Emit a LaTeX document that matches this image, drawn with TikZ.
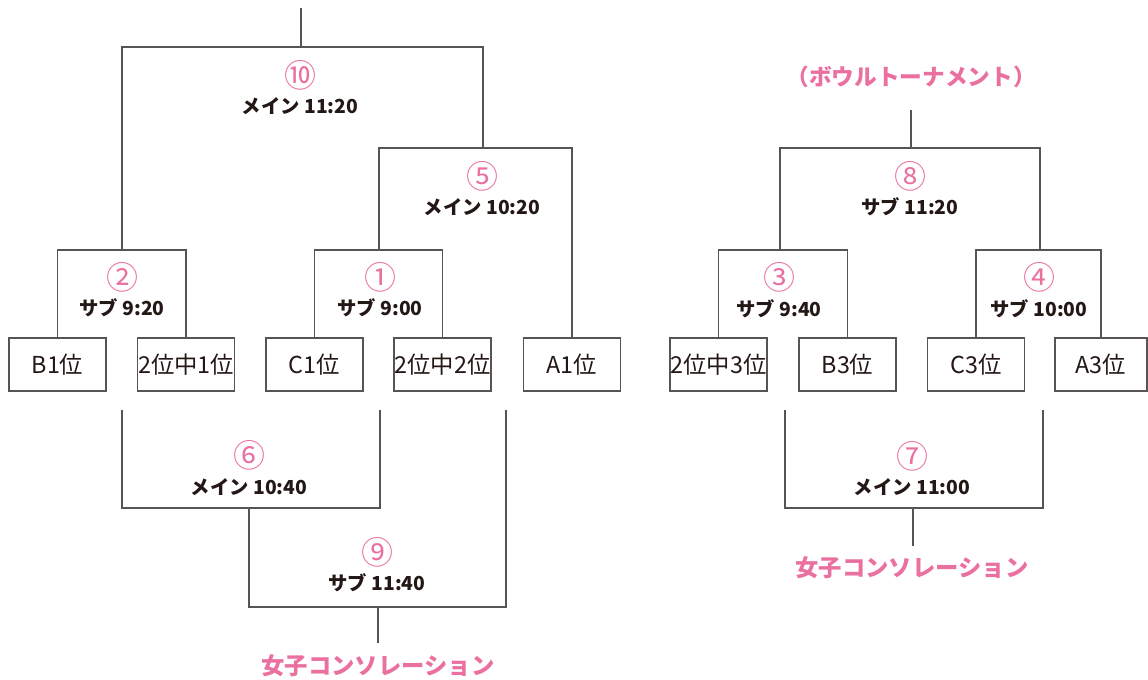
\documentclass[tikz,border=0pt]{standalone}
\usepackage{fontspec}
\setmainfont{Noto Sans CJK JP}
\definecolor{linegray}{RGB}{89,84,84}
\definecolor{inkblack}{RGB}{35,24,21}
\definecolor{rosepink}{RGB}{234,112,160}

\begin{document}
\begin{tikzpicture}[
    x=0.75pt, y=-0.75pt,
    line/.style={draw=linegray, line width=1.1pt},
    team/.style={draw=linegray, line width=1.1pt, minimum width=73pt, minimum height=39.5pt, inner sep=0pt, text=inkblack, font=\fontsize{17.5}{19}\selectfont},
    num/.style={text=rosepink, inner sep=0pt, font=\fontsize{24}{24}\selectfont},
    slot/.style={text=inkblack, inner sep=0pt, font=\bfseries\fontsize{14.5}{16}\selectfont},
    title/.style={text=rosepink, inner sep=0pt, font=\bfseries\fontsize{17.5}{19}\selectfont}
]
    \useasboundingbox (0,0) rectangle (1148,679);

    % first round slots
    \node[team] (b1) at (57.5,364.5) {B1位};
    \node[team] (w21) at (186,364.5) {2位中1位};
    \node[team] (c1) at (314.5,364.5) {C1位};
    \node[team] (w22) at (442.5,364.5) {2位中2位};
    \node[team] (a1) at (572,364.5) {A1位};
    \node[team] (w23) at (718.5,364.5) {2位中3位};
    \node[team] (b3) at (847.5,364.5) {B3位};
    \node[team] (c3) at (976,364.5) {C3位};
    \node[team, minimum width=69pt] (a3) at (1101,364.5) {A3位};

    % main bracket
    \coordinate (j2) at (122,250);
    \coordinate (j1) at (379,250);
    \coordinate (j5) at (483,148);
    \coordinate (j10) at (301,47);
    \coordinate (top10) at (301,8);

    \draw[line] (b1.north) |- (j2) -| (w21.north);
    \draw[line] (c1.north) |- (j1) -| (w22.north);
    \draw[line] (j1) |- (j5) -| (a1.north);
    \draw[line] (j2) |- (j10) -| (j5);
    \draw[line] (j10) -- (top10);

    \node[num] (n10) at (300,75) {⑩};
    \node[slot] (t10) at (300,106) {メイン 11:20};
    \node[num] (n5) at (482,176) {⑤};
    \node[slot] (t5) at (482,207) {メイン 10:20};
    \node[num] (n2) at (122,277) {②};
    \node[slot] (t2) at (122,308) {サブ 9:20};
    \node[num] (n1) at (380,277) {①};
    \node[slot] (t1) at (380,308) {サブ 9:00};

    % consolation (left)
    \coordinate (l2) at (122,410);
    \coordinate (l1) at (380,410);
    \coordinate (l5) at (506,410);
    \coordinate (j6) at (249,508);
    \coordinate (j9) at (378,607);
    \coordinate (e9) at (378,643);

    \draw[line] (l2) |- (j6) -| (l1);
    \draw[line] (j6) |- (j9) -| (l5);
    \draw[line] (j9) -- (e9);

    \node[num] (n6) at (249,455) {⑥};
    \node[slot] (t6) at (249,487) {メイン 10:40};
    \node[num] (n9) at (377,552) {⑨};
    \node[slot] (t9) at (377,583) {サブ 11:40};
    \node[title] (cons1) at (378,666) {女子コンソレーション};

    % bowl bracket
    \node[title, font=\bfseries\fontsize{17}{19}\selectfont] (bowl) at (911,77) {（ボウルトーナメント）};
    \coordinate (j3) at (780,250);
    \coordinate (j4) at (1040,250);
    \coordinate (j8) at (911,148);
    \coordinate (top8) at (911,110);

    \draw[line] (w23.north) |- (j3) -| (b3.north);
    \draw[line] (c3.north) |- (j4) -| (a3.north);
    \draw[line] (j3) |- (j8) -| (j4);
    \draw[line] (j8) -- (top8);

    \node[num] (n8) at (910,176) {⑧};
    \node[slot] (t8) at (910,207) {サブ 11:20};
    \node[num] (n3) at (779,277) {③};
    \node[slot] (t3) at (779,309) {サブ 9:40};
    \node[num] (n4) at (1039,277) {④};
    \node[slot] (t4) at (1039,309) {サブ 10:00};

    % consolation (right)
    \coordinate (l3) at (785,410);
    \coordinate (l4) at (1043,410);
    \coordinate (j7) at (913,508);
    \coordinate (e7) at (913,546);

    \draw[line] (l3) |- (j7) -| (l4);
    \draw[line] (j7) -- (e7);

    \node[num] (n7) at (912,456) {⑦};
    \node[slot] (t7) at (912,487) {メイン 11:00};
    \node[title] (cons2) at (912,568) {女子コンソレーション};
\end{tikzpicture}
\end{document}
